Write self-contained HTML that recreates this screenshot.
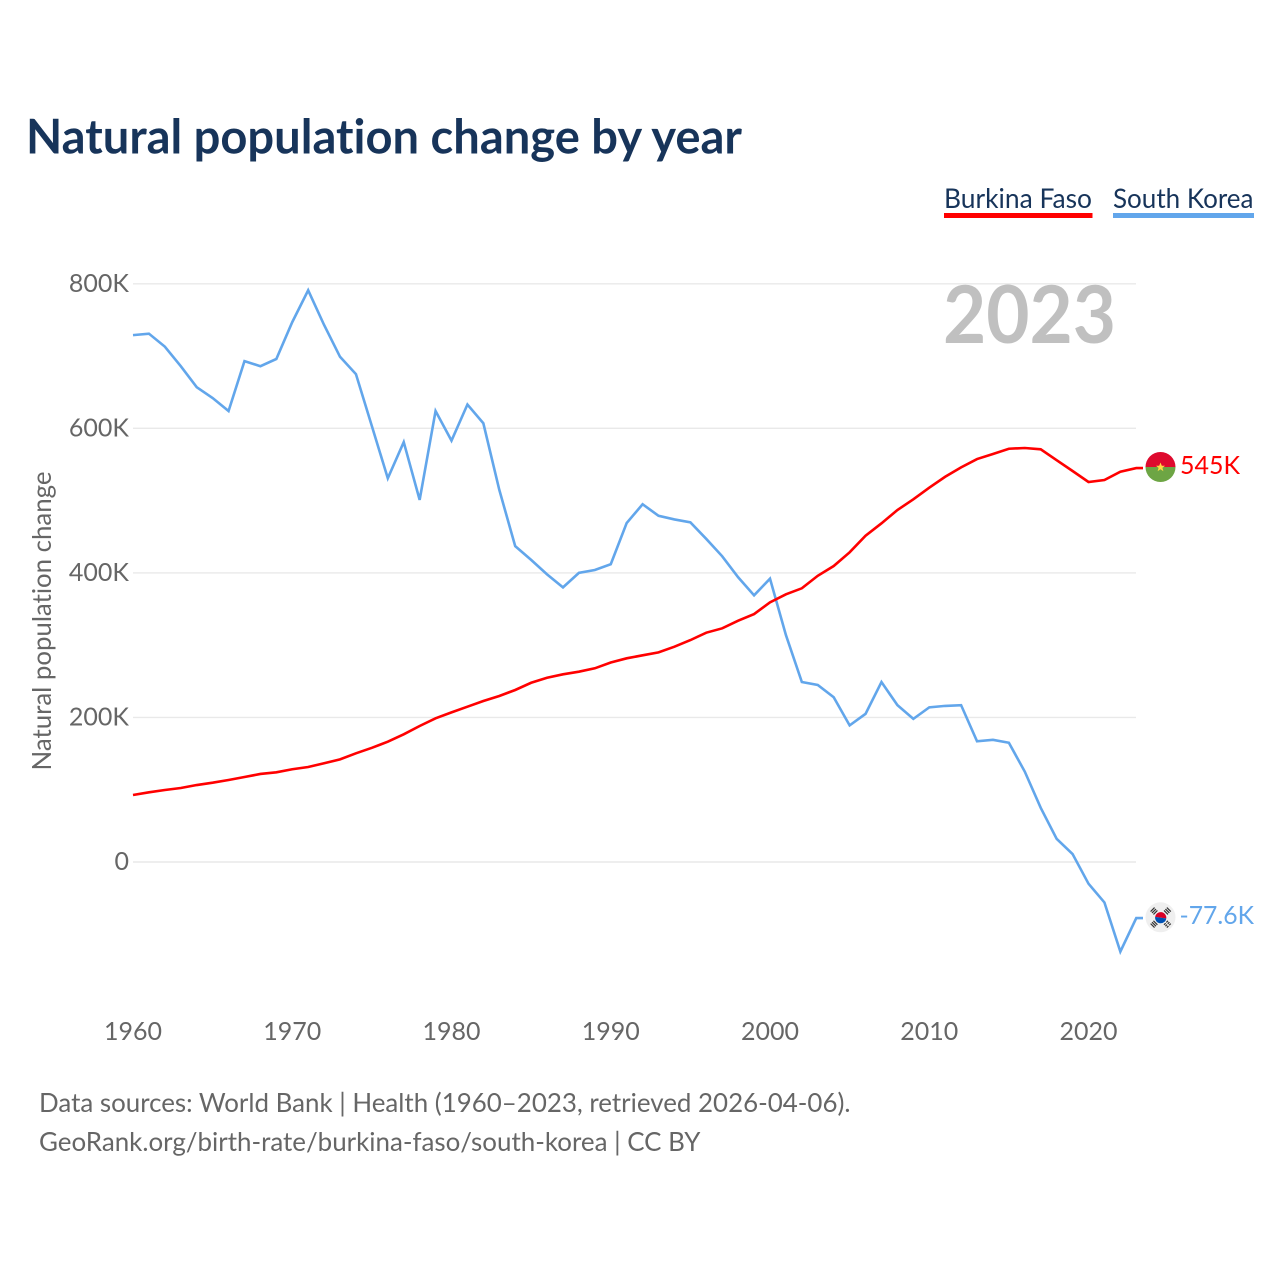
<!DOCTYPE html>
<html lang="en">
<head>
<meta charset="utf-8">
<title>Natural population change by year</title>
<style>
html,body{margin:0;padding:0;background:#fff;}
svg{display:block;}
text{font-family:"Lato","Carlito","Liberation Sans",sans-serif;font-variant-ligatures:none;font-feature-settings:"liga" 0,"clig" 0;}
</style>
</head>
<body>
<svg id="chart" xmlns="http://www.w3.org/2000/svg" width="1280" height="1280" viewBox="0 0 1280 1280">
  <rect x="0" y="0" width="1280" height="1280" fill="#ffffff"/>
  <text x="26" y="153.5" font-size="48" font-weight="700" fill="#17345a" textLength="716" lengthAdjust="spacingAndGlyphs">Natural population change by year</text>

  <g>
    <text x="944" y="208" font-size="27" fill="#17345a" textLength="148" lengthAdjust="spacingAndGlyphs">Burkina Faso</text>
    <rect x="944" y="213" width="148.5" height="5" fill="#ff0000"/>
  </g>
  <g>
    <text x="1113" y="208" font-size="27" fill="#17345a" textLength="140.5" lengthAdjust="spacingAndGlyphs">South Korea</text>
    <rect x="1113" y="213" width="141" height="5" fill="#62a6eb"/>
  </g>

  <g id="grid"></g>
  <g id="yticks"></g>
  <g id="xticks"></g>
  <text transform="translate(51,621)rotate(-90)" text-anchor="middle" font-size="26" fill="#666666" textLength="299" lengthAdjust="spacingAndGlyphs">Natural population change</text>
  <text x="943" y="343" font-size="80" font-weight="700" fill="#c0c0c0" textLength="173" lengthAdjust="spacingAndGlyphs">2023</text>

  <g id="series"></g>

  <g>
    <clipPath id="clip-bf"><circle cx="1160.5" cy="467" r="15"/></clipPath>
    <g clip-path="url(#clip-bf)">
      <rect x="1145" y="452" width="31" height="15" fill="#de0a2e"/>
      <rect x="1145" y="467" width="31" height="15" fill="#6da544"/>
      <polygon points="1160.5,462.5 1161.8,465.8 1165,465.8 1162.4,467.9 1163.4,471.2 1160.5,469.2 1157.6,471.2 1158.6,467.9 1156,465.8 1159.2,465.8" fill="#ffda44"/>
    </g>
  </g>
  <g>
    <circle cx="1160.5" cy="917.3" r="15" fill="#efefef"/>
    <g transform="translate(1160.7,917.7) rotate(8)">
      <path d="M-5.6 0a5.6 5.6 0 0 1 11.2 0z" fill="#d80027"/>
      <path d="M-5.6 0a5.6 5.6 0 0 0 11.2 0z" fill="#0052b4"/>
    </g>
    <g fill="#333333">
      <path transform="translate(1154,911) rotate(-45)" d="M-2.8-2.6h5.6v1.2h-5.6zM-2.8-.6h5.6v1.2h-5.6zM-2.8 1.4h5.6v1.2h-5.6z"/>
      <path transform="translate(1167.4,911) rotate(45)" d="M-2.8-2.6h5.6v1.2h-5.6zM-2.8-.6h5.6v1.2h-5.6zM-2.8 1.4h5.6v1.2h-5.6z"/>
      <path transform="translate(1154,924.2) rotate(45)" d="M-2.8-2.6h5.6v1.2h-5.6zM-2.8-.6h5.6v1.2h-5.6zM-2.8 1.4h5.6v1.2h-5.6z"/>
      <path transform="translate(1167.4,924.2) rotate(-45)" d="M-2.8-2.6h2.3v1.2h-2.3zM.5-2.6h2.3v1.2h-2.3zM-2.8-.6h2.3v1.2h-2.3zM.5-.6h2.3v1.2h-2.3zM-2.8 1.4h2.3v1.2h-2.3zM.5 1.4h2.3v1.2h-2.3z"/>
    </g>
  </g>
  <text x="1180" y="474" font-size="25.5" fill="#ff0000" textLength="60" lengthAdjust="spacingAndGlyphs">545K</text>
  <text x="1179.5" y="924" font-size="25.5" fill="#62a6eb" textLength="74.5" lengthAdjust="spacingAndGlyphs">-77.6K</text>

  <text x="39" y="1112" font-size="26" fill="#666666" textLength="811.5" lengthAdjust="spacingAndGlyphs">Data sources: World Bank | Health (1960–2023, retrieved 2026-04-06).</text>
  <text x="39" y="1151" font-size="26" fill="#666666" textLength="661.5" lengthAdjust="spacingAndGlyphs">GeoRank.org/birth-rate/burkina-faso/south-korea | CC BY</text>
</svg>
<script>
const startYear = 1960;
const burkinaFaso = [92.7,96.4,99.6,102.4,106.5,109.7,113.5,117.6,121.8,124.1,128.3,131.4,136.6,142,150.4,158,166.4,176.7,188.2,198.8,207,214.9,222.8,229.7,238,248,255,259.7,263.3,268,276,281.8,286,290,297.9,307,317.3,323.3,333.9,343,359.3,370.4,378.7,396,409.5,428.5,451.5,468.6,487,501.8,517.9,533,546,557.5,564.5,571.8,572.8,571,556,541,525.8,528.5,540,545];
const southKorea = [729,731,713,686,657,642,624,693,686,696,747,791,743,699,675,603,531,581,501,624,583,633,607,515,437,418,398,380,400,404,412,469,495,479,474,470,447,423,394,369,392,314,249,245,228,189,205,249,217,198,214,216,217,167,169,165,125,75,32,11,-30,-56,-124,-77.6];
const yTickValues = [0,200,400,600,800];
const yTickLabels = ['0','200K','400K','600K','800K'];
const xTickYears = [1960,1970,1980,1990,2000,2010,2020];
const xTickLabels = ['1960','1970','1980','1990','2000','2010','2020'];

const NS = 'http://www.w3.org/2000/svg';
const xScale = year => 133 + (year - 1960) * 15.925;
const yScale = value => 862 - value * 0.72275;
const gridEl = document.getElementById('grid');
const yTicksEl = document.getElementById('yticks');
const xTicksEl = document.getElementById('xticks');
const seriesEl = document.getElementById('series');

yTickValues.forEach((value, i) => {
  const line = document.createElementNS(NS, 'line');
  
  
  line.setAttribute('x1', 133);
  line.setAttribute('x2', 1136);
  line.setAttribute('y1', yScale(value));
  line.setAttribute('y2', yScale(value));
  line.setAttribute('stroke', '#e9e9e9');
  line.setAttribute('stroke-width', 1.4);
  gridEl.appendChild(line);

  const label = document.createElementNS(NS, 'text');
  
  
  label.setAttribute('x', 129);
  label.setAttribute('y', yScale(value) + 8.2);
  label.setAttribute('text-anchor', 'end');
  label.setAttribute('font-size', 25);
  label.setAttribute('fill', '#666666');
  label.textContent = yTickLabels[i];
  yTicksEl.appendChild(label);
});

xTickYears.forEach((year, i) => {
  const label = document.createElementNS(NS, 'text');
  
  
  label.setAttribute('x', xScale(year));
  label.setAttribute('y', 1040);
  label.setAttribute('text-anchor', 'middle');
  label.setAttribute('font-size', 25);
  label.setAttribute('fill', '#666666');
  label.textContent = xTickLabels[i];
  xTicksEl.appendChild(label);
});

function drawSeries(values, color, name) {
  const pts = values.map((v, i) => xScale(startYear + i).toFixed(2) + ',' + yScale(v).toFixed(2));
  const lastY = yScale(values[values.length - 1]).toFixed(2);
  pts.push('1143,' + lastY);
  const poly = document.createElementNS(NS, 'polyline');
  
  
  poly.setAttribute('points', pts.join(' '));
  poly.setAttribute('fill', 'none');
  poly.setAttribute('stroke', color);
  poly.setAttribute('stroke-width', 2.6);
  poly.setAttribute('stroke-linejoin', 'miter');
  seriesEl.appendChild(poly);
}
drawSeries(southKorea, '#62a6eb', 'line-south-korea');
drawSeries(burkinaFaso, '#ff0000', 'line-burkina-faso');
</script>
</body>
</html>
